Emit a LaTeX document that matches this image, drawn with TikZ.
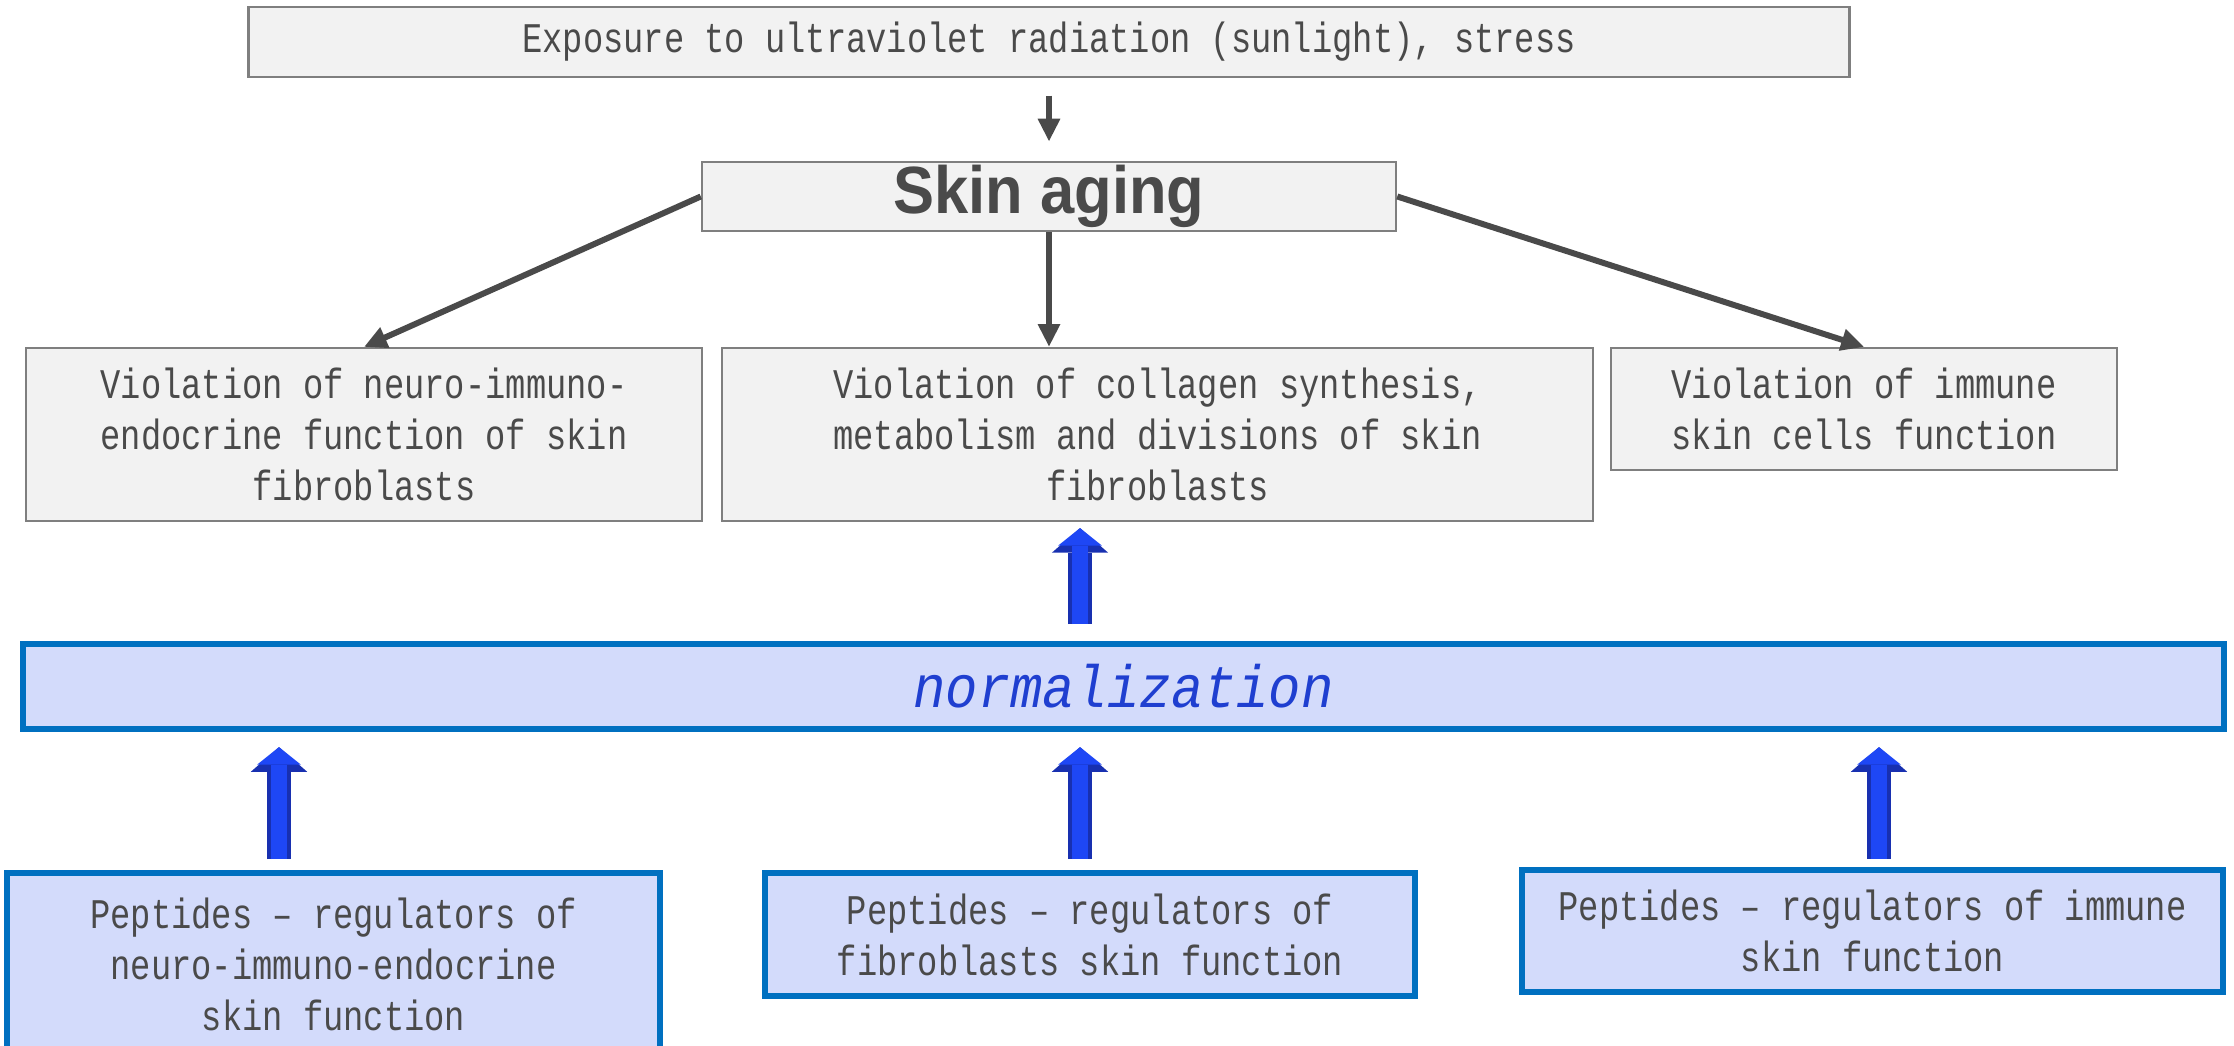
\documentclass[tikz,border=0pt]{standalone}
\usepackage{fontspec}
\setmainfont{Liberation Mono}[FakeStretch=0.8]
\newfontfamily\headfont{Liberation Sans}[FakeStretch=0.92]
\newfontfamily\normfont{Liberation Mono}[FakeStretch=0.9]
\usetikzlibrary{arrows.meta}
\definecolor{boxgray}{HTML}{F2F2F2}
\definecolor{edgegray}{HTML}{7F7F7F}
\definecolor{txtgray}{HTML}{4A4A4A}
\definecolor{paleblue}{HTML}{D3DBFB}
\definecolor{edgeblue}{HTML}{0070C0}
\definecolor{arrowblue}{HTML}{1E47F5}
\definecolor{arrowdark}{HTML}{1830B0}
\definecolor{normblue}{HTML}{1F3FD0}

\begin{document}
\begin{tikzpicture}[x=0.01cm, y=-0.01cm,
    graybox/.style={draw=edgegray, line width=0.6pt, fill=boxgray, text=txtgray, align=center, inner sep=0pt, font=\fontsize{12}{14.5}\selectfont},
    bluebox/.style={draw=edgeblue, line width=1.7pt, fill=paleblue, text=txtgray, align=center, inner sep=0pt, font=\fontsize{12}{14.5}\selectfont},
    grayarrow/.style={draw=txtgray, line width=1.7pt, -{Triangle[width=6pt,length=6.5pt]}},
    uparrow/.style={draw=arrowblue, line width=4.8pt, -{Triangle[width=12.5pt,length=5pt,line width=0pt]},
      preaction={draw=arrowdark, line width=7pt, -{Triangle[width=16pt,length=7pt,line width=0pt]}}}]
  \useasboundingbox (0,0) rectangle (2234,1046);

  \node[graybox, minimum width=16cm, minimum height=0.7cm] (expo) at (1049,42) {Exposure to ultraviolet radiation (sunlight), stress};
  \node[graybox, minimum width=6.94cm, minimum height=0.69cm, font=\headfont\bfseries\fontsize{19}{20}\selectfont] (aging) at (1049,196.5) {Skin aging};
  \node[graybox, minimum width=6.76cm, minimum height=1.73cm] (lviol) at (364,434.5) {Violation of neuro-immuno-\\endocrine function of skin\\fibroblasts};
  \node[graybox, minimum width=8.71cm, minimum height=1.73cm] (mviol) at (1157.5,434.5) {Violation of collagen synthesis,\\metabolism and divisions of skin\\fibroblasts};
  \node[graybox, minimum width=5.06cm, minimum height=1.22cm] (rviol) at (1864,409) {Violation of immune\\skin cells function};

  \node[bluebox, minimum width=21.99cm, minimum height=0.85cm, text=normblue, font=\normfont\itshape\fontsize{17}{20}\selectfont] (norm) at (1123.5,686.5) {normalization};

  \node[bluebox, minimum width=6.53cm, minimum height=1.82cm] (lpep) at (333.5,964) {Peptides – regulators of\\neuro-immuno-endocrine\\skin function};
  \node[bluebox, minimum width=6.5cm, minimum height=1.23cm] (mpep) at (1090,934.5) {Peptides – regulators of\\fibroblasts skin function};
  \node[bluebox, minimum width=7.01cm, minimum height=1.22cm] (rpep) at (1872.5,931) {Peptides – regulators of immune\\skin function};

  \coordinate (ax1) at (279,0);
  \coordinate (ax2) at (1080,0);
  \coordinate (ax3) at (1879,0);

  \draw[grayarrow, shorten <=5pt, shorten >=5.5pt] (expo) -- (aging);
  \draw[grayarrow] (aging.west) -- (lviol.north);
  \draw[grayarrow] (aging.south) -- (aging.south |- mviol.north);
  \draw[grayarrow] (aging.east) -- (rviol.north);

  \draw[uparrow, shorten <=4.8pt, shorten >=1.7pt] (norm.north -| ax2) -- (mviol.south -| ax2);
  \draw[uparrow, shorten <=3.1pt, shorten >=4.3pt] (lpep.north -| ax1) -- (norm.south -| ax1);
  \draw[uparrow, shorten <=3.1pt, shorten >=4.3pt] (mpep.north -| ax2) -- (norm.south -| ax2);
  \draw[uparrow, shorten <=2.3pt, shorten >=4.3pt] (rpep.north -| ax3) -- (norm.south -| ax3);
\end{tikzpicture}
\end{document}
